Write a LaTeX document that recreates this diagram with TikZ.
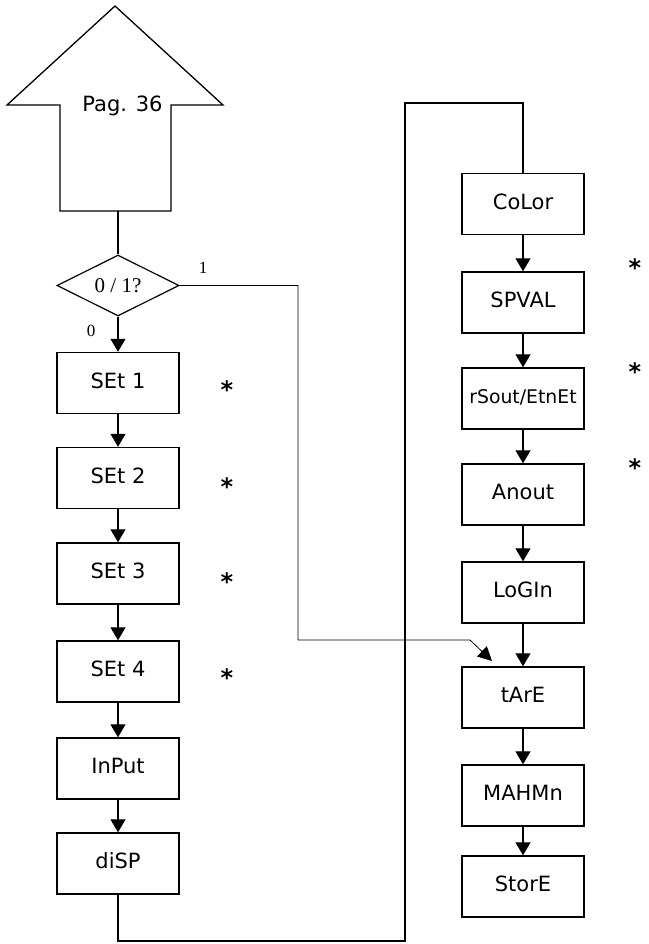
\documentclass[tikz,border=0pt]{standalone}
\usepackage{fontspec}
\setmainfont{DejaVu Sans}
\newfontfamily\seriffam{Liberation Serif}
\newfontfamily\starfam{DejaVu Sans Bold}
\usetikzlibrary{arrows.meta,shapes.geometric}
\begin{document}
\begin{tikzpicture}[x=1pt,y=-1pt,
  box/.style={draw,line width=1.4pt,minimum width=122pt,minimum height=61pt,inner sep=0pt,
    font=\fontsize{21}{24}\selectfont,text height=15pt,text depth=5pt},
  conn/.style={line width=1.1pt},
  arr/.style={conn,-{Triangle[length=13pt,width=15pt]}},
  thinarr/.style={line width=0.8pt,-{Triangle[length=14pt,width=14pt]}},
  starnode/.style={anchor=base,inner sep=0pt,font=\starfam\fontsize{24}{26}\selectfont},
  lbl/.style={inner sep=0pt,font=\seriffam\fontsize{17}{19}\selectfont},
]
\useasboundingbox (0,0) rectangle (648,944);

% big up arrow
\draw[line width=1.3pt,line join=miter] (115,6) -- (223,105) -- (171,105) -- (171,211)
  -- (60,211) -- (60,105) -- (7,105) -- cycle;
\node[anchor=base,inner sep=0pt,font=\fontsize{21}{24}\selectfont] (pag) at (122.5,111.7) {Pag. 36};
\coordinate (pagbot) at (118,211);

% decision
\node[diamond,draw,line width=1.2pt,minimum width=122pt,minimum height=61pt,inner sep=0pt,
  font=\seriffam\fontsize{21}{22}\selectfont] (dec) at (118,285.5) {0 / 1?};
\node[lbl] (l1) at (203,268) {1};
\node[lbl] (l0) at (91,331) {0};

% left column
\node[box] (set1) at (118,383) {SEt 1};
\node[box] (set2) at (118,478) {SEt 2};
\node[box] (set3) at (118,573.5) {SEt 3};
\node[box] (set4) at (118,671.5) {SEt 4};
\node[box] (input) at (118,768.5) {InPut};
\node[box] (disp) at (118,863.5) {diSP};

% right column
\node[box] (color) at (523,204) {CoLor};
\node[box] (spval) at (523,302.5) {SPVAL};
\node[box,font=\fontsize{18.8}{22}\selectfont] (rsout) at (523,398.5) {rSout/EtnEt};
\node[box] (anout) at (523,494.5) {Anout};
\node[box] (login) at (523,592.5) {LoGIn};
\node[box] (tare) at (523,697.5) {tArE};
\node[box] (mahmn) at (523,795.5) {MAHMn};
\node[box] (store) at (523,886.5) {StorE};

% stars
\foreach \n/\x/\y in {s1/227/385, s2/227/482, s3/227/577, s4/227/673, r1/635/263, r2/635/367, r3/635/463}
  \node[starnode] (\n) at (\x,\y+13) {*};

% connectors
\draw[conn] (pagbot) -- (dec.north);
\draw[arr] (dec.south) -- (set1.north);
\draw[arr] (set1) -- (set2);
\draw[arr] (set2) -- (set3);
\draw[arr] (set3) -- (set4);
\draw[arr] (set4) -- (input);
\draw[arr] (input) -- (disp);

\coordinate (loopb) at (405,941);
\coordinate (loopt) at (405,103);
\draw[conn] (disp.south) |- (loopb) -- (loopt) -| (color.north);

\draw[arr] (color) -- (spval);
\draw[arr] (spval) -- (rsout);
\draw[arr] (rsout) -- (anout);
\draw[arr] (anout) -- (login);
\draw[arr] (login) -- (tare);
\draw[arr] (tare) -- (mahmn);
\draw[arr] (mahmn) -- (store);

\coordinate (k1) at (298,640);
\coordinate (k2) at (470,640);
\coordinate (tin) at (492,661);
\draw[thinarr] (dec.east) -| (k1) -- (k2) -- (tin);
\end{tikzpicture}
\end{document}
